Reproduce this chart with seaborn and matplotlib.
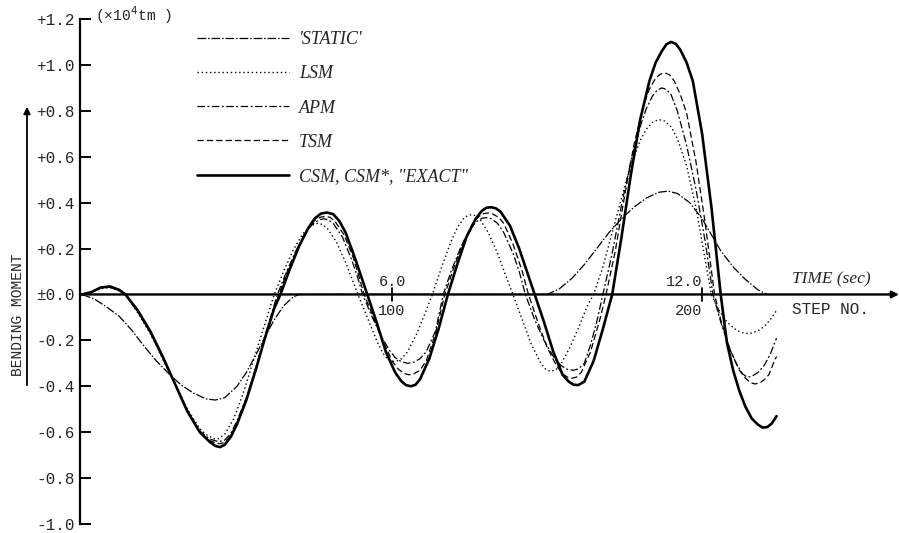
import matplotlib
matplotlib.use("Agg")
import matplotlib.pyplot as plt
from matplotlib.lines import Line2D
import seaborn as sns
import pandas as pd

# ---------------- data ----------------
# x: step number (1 step = 0.06 s), y: bending moment (x10^4 tm)
static_step = [0, 4, 8, 12, 16, 20, 24, 28, 32, 36, 40, 43, 46, 50, 53, 56, 59, 62, 65, 68, 70,
               150, 154, 158, 162, 166, 170, 174, 178, 182, 186, 189, 192, 196, 200, 203, 206, 210, 214, 218, 221]
static_val = [0, -0.02, -0.055, -0.095, -0.155, -0.225, -0.29, -0.345, -0.395, -0.43, -0.455, -0.46, -0.45, -0.40, -0.34,
              -0.265, -0.185, -0.11, -0.05, -0.012, 0,
              0, 0.025, 0.07, 0.13, 0.20, 0.27, 0.33, 0.38, 0.42, 0.445, 0.45, 0.44, 0.40, 0.33, 0.26, 0.19, 0.12, 0.065, 0.02, 0]

lsm_step = [0, 3, 6, 9, 12, 14, 18, 22, 26, 30, 34, 38, 40, 42, 43, 44, 46, 49, 52, 55, 58, 60, 62,
            65, 68, 71, 73, 74.5, 76, 77.5, 79, 82, 85, 87, 89, 92, 95, 97, 98.5, 100, 101.5, 103, 105, 108, 111, 113,
            116, 119, 121, 123, 124.5, 126, 128, 131, 134, 137, 139, 142, 145, 148, 149.5, 151, 152.5, 154, 157, 160, 163, 165,
            168, 171, 174, 177, 180, 182, 184, 186, 188, 190, 192, 195, 198, 201, 203, 205, 208, 211, 213, 214.5, 216, 218, 220, 222, 224]
lsm_val = [0, 0.01, 0.025, 0.03, 0.015, 0, -0.08, -0.17, -0.28, -0.39, -0.50, -0.585, -0.61, -0.625, -0.63, -0.628, -0.61,
           -0.54, -0.43, -0.30, -0.17, -0.085, 0,
           0.10, 0.19, 0.26, 0.29, 0.303, 0.31, 0.305, 0.29, 0.23, 0.14, 0.07, 0, -0.10, -0.20, -0.255, -0.28, -0.292, -0.29,
           -0.28, -0.25, -0.17, -0.07, 0,
           0.12, 0.23, 0.29, 0.33, 0.345, 0.348, 0.335, 0.27, 0.18, 0.07, 0, -0.11, -0.22, -0.30, -0.325, -0.335, -0.33,
           -0.315, -0.24, -0.15, -0.05, 0,
           0.12, 0.27, 0.42, 0.56, 0.67, 0.72, 0.75, 0.762, 0.755, 0.73, 0.68, 0.56, 0.38, 0.15, 0, -0.06, -0.12,
           -0.155, -0.166, -0.17, -0.168, -0.158, -0.14, -0.11, -0.07]

apm_step = [0, 3, 6, 9, 12, 14, 18, 22, 26, 30, 34, 38, 41, 43, 44.5, 46, 48, 50, 53, 56, 59, 61, 63,
            66, 69, 72, 74.5, 76.5, 78, 79.5, 81, 84, 87, 89, 90.5, 93, 96, 99, 101, 103, 105, 107, 109, 111, 114, 116.5,
            119, 122, 125, 127, 129, 130.5, 132, 134, 136, 139, 141, 143, 146, 149, 152, 154.5, 156.5, 158.5, 160, 162, 164, 166, 168,
            171, 174, 177, 180, 182, 184, 185.5, 187, 188.5, 190, 192, 195, 198, 201, 203.5, 206, 209, 211, 213, 214.5, 216, 218, 220, 222, 224]
apm_val = [0, 0.01, 0.03, 0.032, 0.018, 0, -0.075, -0.165, -0.275, -0.39, -0.505, -0.595, -0.628, -0.638, -0.64, -0.635,
           -0.605, -0.55, -0.45, -0.32, -0.18, -0.09, 0,
           0.10, 0.19, 0.27, 0.308, 0.325, 0.33, 0.325, 0.31, 0.25, 0.15, 0.07, 0, -0.08, -0.17, -0.24, -0.275, -0.293,
           -0.30, -0.295, -0.28, -0.25, -0.16, 0,
           0.10, 0.20, 0.28, 0.315, 0.332, 0.335, 0.33, 0.31, 0.27, 0.18, 0.10, 0, -0.11, -0.20, -0.27, -0.31, -0.326,
           -0.33, -0.325, -0.3, -0.22, -0.12, 0,
           0.18, 0.39, 0.58, 0.73, 0.81, 0.865, 0.89, 0.90, 0.893, 0.87, 0.80, 0.65, 0.46, 0.23, 0, -0.12, -0.24, -0.30,
           -0.345, -0.36, -0.357, -0.34, -0.31, -0.26, -0.19]

tsm_step = [0, 3, 6, 9, 12, 14, 18, 22, 26, 30, 34, 38, 41, 43, 44.5, 46, 48, 50, 53, 56, 59, 61, 63.5,
            66.5, 69.5, 72.5, 75, 77, 78.5, 80, 81.5, 84.5, 87.5, 89.5, 91, 94, 97, 100, 102, 104, 105.5, 107, 109, 111, 114, 117,
            120, 123, 126, 128, 129.5, 131, 132.5, 134.5, 136, 139, 142, 144, 147, 150, 153, 155, 156.5, 158, 159.5, 161, 164, 167, 169,
            172, 175, 178, 181, 183, 185, 186.5, 188, 189.5, 191, 193, 195, 198, 201, 204, 206, 209, 212, 214, 215.5, 217, 218.5, 220, 221.5, 223, 224]
tsm_val = [0, 0.01, 0.03, 0.034, 0.019, 0, -0.075, -0.165, -0.275, -0.39, -0.51, -0.60, -0.635, -0.647, -0.65, -0.645,
           -0.615, -0.56, -0.455, -0.33, -0.19, -0.10, 0,
           0.11, 0.20, 0.28, 0.322, 0.337, 0.34, 0.336, 0.32, 0.26, 0.16, 0.07, 0, -0.10, -0.20, -0.29, -0.325, -0.345,
           -0.35, -0.346, -0.33, -0.29, -0.17, 0,
           0.12, 0.23, 0.31, 0.34, 0.352, 0.355, 0.35, 0.335, 0.31, 0.22, 0.10, 0, -0.12, -0.23, -0.31, -0.345, -0.36,
           -0.365, -0.36, -0.34, -0.25, -0.11, 0,
           0.19, 0.43, 0.65, 0.82, 0.895, 0.942, 0.96, 0.965, 0.957, 0.93, 0.87, 0.79, 0.58, 0.31, 0, -0.11, -0.24,
           -0.33, -0.365, -0.383, -0.39, -0.386, -0.372, -0.35, -0.30, -0.27]

csm_step = [0, 3, 6, 9, 12, 14, 18, 22, 26, 30, 34, 38, 41, 43, 44.5, 46, 48, 50, 53, 56, 59, 62, 64,
            67, 70, 73, 75, 77, 79, 81, 83, 85, 88, 90, 92, 95, 98, 101, 103, 104.5, 106, 107.5, 109, 112, 115, 118,
            121, 124, 127, 129, 130.5, 132, 133.5, 135, 138, 141, 144, 146, 149, 152, 155, 157, 158.5, 160, 162, 165, 168, 171,
            174, 177, 180, 183, 185, 187, 188.5, 190, 191.5, 193, 195, 197, 200, 203, 206, 208, 210, 212, 214, 216, 218, 219.5, 221, 222.5, 224]
csm_val = [0, 0.01, 0.03, 0.035, 0.02, 0, -0.07, -0.16, -0.27, -0.39, -0.51, -0.60, -0.64, -0.66, -0.665, -0.655,
           -0.62, -0.565, -0.46, -0.33, -0.19, -0.06, 0,
           0.11, 0.21, 0.29, 0.33, 0.352, 0.357, 0.35, 0.32, 0.27, 0.16, 0.08, 0, -0.12, -0.25, -0.34, -0.378, -0.395,
           -0.40, -0.394, -0.37, -0.28, -0.15, 0,
           0.13, 0.25, 0.33, 0.365, 0.378, 0.38, 0.375, 0.36, 0.30, 0.20, 0.08, 0, -0.12, -0.25, -0.35, -0.38, -0.393,
           -0.395, -0.38, -0.29, -0.15, 0,
           0.25, 0.52, 0.76, 0.93, 1.01, 1.06, 1.09, 1.10, 1.092, 1.065, 1.01, 0.93, 0.70, 0.38, 0, -0.21, -0.33, -0.42,
           -0.49, -0.54, -0.567, -0.58, -0.578, -0.562, -0.53]

series_names = ["'STATIC'", "LSM", "APM", "TSM", "CSM, CSM*, \"EXACT\""]
y_ticks = [-1.0, -0.8, -0.6, -0.4, -0.2, 0.0, 0.2, 0.4, 0.6, 0.8, 1.0, 1.2]
y_tick_labels = ["-1.0", "-0.8", "-0.6", "-0.4", "-0.2", "\u00b10.0", "+0.2", "+0.4", "+0.6", "+0.8", "+1.0", "+1.2"]
x_ticks = [100, 200]
x_time_labels = ["6.0", "12.0"]
x_step_labels = ["100", "200"]

# ---------------- styling ----------------
sns.set_theme(style="white")
plt.rcParams['font.family'] = ['Liberation Mono', 'DejaVu Sans']

W, H = 899, 533
fig = plt.figure(figsize=(W / 100, H / 100), dpi=100)
ax = fig.add_axes([80 / W, (H - 524) / H, (W - 80) / W, (524 - 19) / H])
ax.set_xlim(-0.65, 263.5)
ax.set_ylim(-1.0, 1.2)

styles = [
    dict(lw=0.9, dashes=(7, 1.5, 1.2, 1.5)),
    dict(lw=1.0, dashes=(1, 2)),
    dict(lw=0.9, dashes=(6, 2, 1.5, 2)),
    dict(lw=0.9, dashes=(5, 2.5)),
    dict(lw=1.9, dashes=()),
]
data_steps = [static_step, lsm_step, apm_step, tsm_step, csm_step]
data_vals = [static_val, lsm_val, apm_val, tsm_val, csm_val]

handles = []
for name, st, vv, sty in zip(series_names, data_steps, data_vals, styles):
    df = pd.DataFrame({"step": st, "moment": vv})
    sns.lineplot(data=df, x="step", y="moment", ax=ax, color="black", estimator=None,
                 sort=False, linewidth=sty["lw"], legend=False)
    ln = ax.lines[-1]
    ln.set_solid_joinstyle("round")
    ln.set_dash_joinstyle("round")
    if sty["dashes"]:
        ln.set_dashes(sty["dashes"])
    h = Line2D([0], [0], color="black", lw=sty["lw"])
    if sty["dashes"]:
        h.set_dashes(sty["dashes"])
    handles.append(h)

# axes appearance
for s in ["top", "right", "bottom"]:
    ax.spines[s].set_visible(False)
ax.spines["left"].set_linewidth(1.6)
ax.spines["left"].set_color("black")
ax.set_xlabel("")
ax.set_ylabel("")
ax.set_xticks([])
ax.set_yticks(y_ticks)
ax.set_yticklabels(y_tick_labels, fontsize=11.5, family=['Liberation Mono'])
ax.tick_params(axis="y", direction="in", length=8, width=1.4, color="black", pad=4, left=True)

# time axis (horizontal line at 0 with arrow)
ax.annotate("", xy=(263.5, 0), xytext=(-0.65, 0), xycoords="data",
            arrowprops=dict(arrowstyle="-|>", lw=1.7, color="black", mutation_scale=10,
                            shrinkA=0, shrinkB=0), annotation_clip=False)
for xt, tl, sl in zip(x_ticks, x_time_labels, x_step_labels):
    ax.plot([xt, xt], [-0.03, 0.03], color="black", lw=1.3)
    ha = "center" if xt == 100 else "right"
    ax.text(xt, 0.025, tl, ha=ha, va="bottom", fontsize=11, family=['Liberation Mono'])
    ax.text(xt, -0.04, sl, ha=ha, va="top", fontsize=11, family=['Liberation Mono'])

ax.text(229, 0.03, "TIME (sec)", ha="left", va="bottom", fontsize=12.5,
        family=['Liberation Serif'], style="italic")
ax.text(229, -0.035, "STEP NO.", ha="left", va="top", fontsize=11.5,
        family=['Liberation Mono'])

# unit label
fig.text(95 / W, (H - 15) / H, "(\u00d710$^4$tm )", ha="left", va="center", fontsize=10.5,
         family=['Liberation Mono'])

# y-axis title with underline arrow
fig.text(18 / W, (H - 315) / H, "BENDING MOMENT", rotation=90, ha="center", va="center",
         fontsize=10.5, family=['Liberation Mono'])
fig.add_artist(matplotlib.patches.FancyArrowPatch((27, H - 388), (27, H - 104), transform=None,
               arrowstyle="-|>", mutation_scale=10, lw=1.3, color="black"))

# legend
leg = ax.legend(handles, series_names, loc="upper left", bbox_to_anchor=(181 / W, (H - 15) / H),
                bbox_transform=fig.transFigure, frameon=False, handlelength=5.1,
                handletextpad=0.55, labelspacing=0.95,
                prop=dict(family='Liberation Serif', style='italic', size=13))

fig.savefig("out.png", dpi=100, facecolor="white")
